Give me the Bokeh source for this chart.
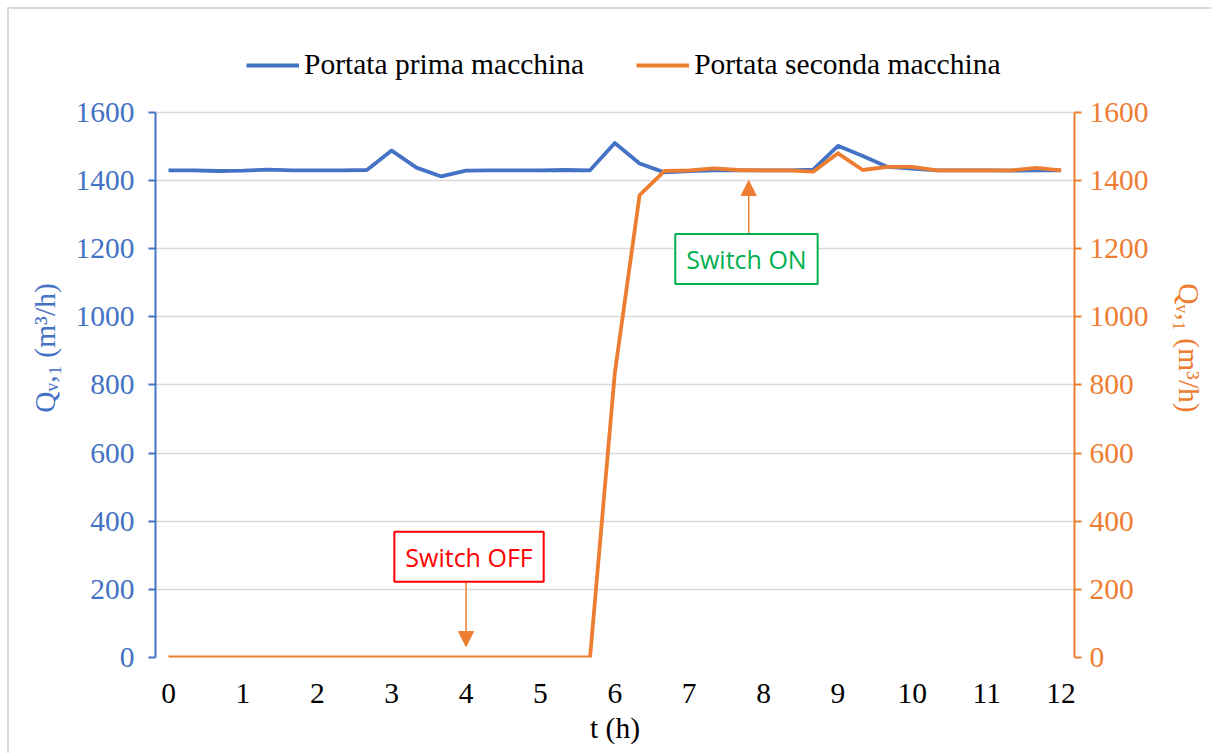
from bokeh.plotting import figure
from bokeh.models import (Range1d, LinearAxis, FixedTicker, Legend, LegendItem,
                          Label, Arrow, NormalHead)
from bokeh.embed import file_html
from bokeh.resources import INLINE

# ---------------- data ----------------
t_h = [0, 0.333, 0.667, 1, 1.333, 1.667, 2, 2.333, 2.667, 3, 3.333, 3.667,
       4, 4.333, 4.667, 5, 5.333, 5.667, 6, 6.333, 6.667, 7, 7.333, 7.667,
       8, 8.333, 8.667, 9, 9.333, 9.667, 10, 10.333, 10.667, 11, 11.333, 11.667, 12]

portata_prima = [1430, 1430, 1428, 1429, 1432, 1430, 1430, 1430, 1431, 1488, 1438, 1412,
                 1429, 1430, 1430, 1430, 1431, 1430, 1510, 1450, 1424, 1428, 1430, 1430,
                 1430, 1430, 1432, 1502, 1472, 1440, 1435, 1430, 1430, 1430, 1429, 1430, 1430]

portata_seconda = [0, 0, 0, 0, 0, 0, 0, 0, 0, 0, 0, 0,
                   0, 0, 0, 0, 0, 0, 835, 1357, 1428, 1430, 1436, 1431,
                   1430, 1430, 1426, 1480, 1431, 1440, 1440, 1430, 1430, 1430, 1430, 1437, 1430]

series_names = ["Portata prima macchina", "Portata seconda macchina"]
x_ticks = [0, 1, 2, 3, 4, 5, 6, 7, 8, 9, 10, 11, 12]
y_ticks = [0, 200, 400, 600, 800, 1000, 1200, 1400, 1600]
x_label = "t (h)"
y_label = "Q\u1d65,\u2081 (m\u00b3/h)"

# annotations: (text, box x, box y, arrow x, arrow start y, arrow end y)
off_note = ("Switch OFF", 4.04, 296, 4.0, 220, 32)
on_note = ("Switch ON", 7.77, 1170, 7.80, 1245, 1400)

BLUE = "#4472C4"
ORANGE = "#ED7D31"
GRID = "#D9D9D9"
SERIF = "Liberation Serif"
FS = "29.5px"
Y_TOP = 1817  # range top (space above 1600 holds the legend)

p = figure(width=1204, height=746, output_backend="svg", toolbar_location=None,
           x_range=Range1d(-0.175, 12.18), y_range=Range1d(0, Y_TOP),
           min_border_left=146, min_border_right=139, min_border_top=29,
           min_border_bottom=98)
p.styles = {"margin-left": "9px", "margin-top": "9px",
            "box-shadow": "-2px -2px 0 0 #D9D9D9"}
p.extra_y_ranges = {"right": Range1d(0, Y_TOP)}
p.outline_line_color = None
p.background_fill_color = "white"
p.border_fill_color = "white"

# grid
p.xgrid.visible = False
p.ygrid.ticker = FixedTicker(ticks=y_ticks)
p.ygrid.grid_line_color = GRID
p.ygrid.grid_line_width = 1.5

# x axis
xa = p.xaxis[0]
xa.ticker = FixedTicker(ticks=x_ticks)
xa.axis_line_color = None
xa.major_tick_line_color = None
xa.minor_tick_line_color = None
xa.major_label_standoff = 20
xa.major_label_text_font = SERIF
xa.major_label_text_font_size = FS
xa.major_label_text_color = "black"
xa.axis_label = x_label
xa.axis_label_text_font = SERIF
xa.axis_label_text_font_size = FS
xa.axis_label_text_font_style = "normal"
xa.axis_label_text_color = "black"
xa.axis_label_standoff = 6

# left y axis
ya = p.yaxis[0]
ya.ticker = FixedTicker(ticks=y_ticks)
ya.bounds = (0, 1600)
ya.axis_line_color = BLUE
ya.axis_line_width = 2
ya.major_tick_line_color = BLUE
ya.major_tick_line_width = 2
ya.major_tick_out = 7
ya.major_tick_in = 0
ya.minor_tick_line_color = None
ya.major_label_standoff = 14
ya.major_label_text_font = SERIF
ya.major_label_text_font_size = FS
ya.major_label_text_color = BLUE
ya.axis_label = y_label
ya.axis_label_text_font = SERIF
ya.axis_label_text_font_size = FS
ya.axis_label_text_font_style = "normal"
ya.axis_label_text_color = BLUE
ya.axis_label_standoff = 12

# right y axis
ra = LinearAxis(y_range_name="right", ticker=FixedTicker(ticks=y_ticks), bounds=(0, 1600))
ra.axis_line_color = ORANGE
ra.axis_line_width = 2
ra.major_tick_line_color = ORANGE
ra.major_tick_line_width = 2
ra.major_tick_out = 7
ra.major_tick_in = 0
ra.minor_tick_line_color = None
ra.major_label_standoff = 8
ra.major_label_text_font = SERIF
ra.major_label_text_font_size = FS
ra.major_label_text_color = ORANGE
ra.axis_label = y_label
ra.axis_label_text_font = SERIF
ra.axis_label_text_font_size = FS
ra.axis_label_text_font_style = "normal"
ra.axis_label_text_color = ORANGE
ra.axis_label_standoff = 21
p.add_layout(ra, "right")

# lines
r1 = p.line(t_h, portata_prima, line_color=BLUE, line_width=3.8, line_join="round")
r2 = p.line(t_h, portata_seconda, line_color=ORANGE, line_width=3.8, line_join="round",
            y_range_name="right")

legend = Legend(items=[LegendItem(label=series_names[0], renderers=[r1]),
                       LegendItem(label=series_names[1], renderers=[r2])],
                orientation="horizontal", location=(91, 576),
                glyph_width=53, glyph_height=20, label_standoff=5, spacing=52,
                padding=4, margin=0, border_line_color=None,
                background_fill_alpha=0,
                label_text_font=SERIF, label_text_font_size=FS,
                label_text_color="black")
p.add_layout(legend, "center")

# annotations
for (txt, bx, by, ax, ay0, ay1), col in [(off_note, "#FF0000"), (on_note, "#00B050")]:
    p.add_layout(Arrow(x_start=ax, y_start=ay0, x_end=ax, y_end=ay1,
                       line_color=ORANGE, line_width=1.5,
                       end=NormalHead(size=15, fill_color=ORANGE, line_color=ORANGE),
                       y_range_name="right"))
    p.add_layout(Label(x=bx, y=by, text=txt, text_align="center", text_baseline="middle",
                       text_font="Open Sans", text_font_size="25px", text_color=col,
                       border_line_color=col, border_line_width=2,
                       background_fill_color="white", padding=(11, 8),
                       y_range_name="right"))

open("out.html", "w").write(file_html(p, INLINE))
